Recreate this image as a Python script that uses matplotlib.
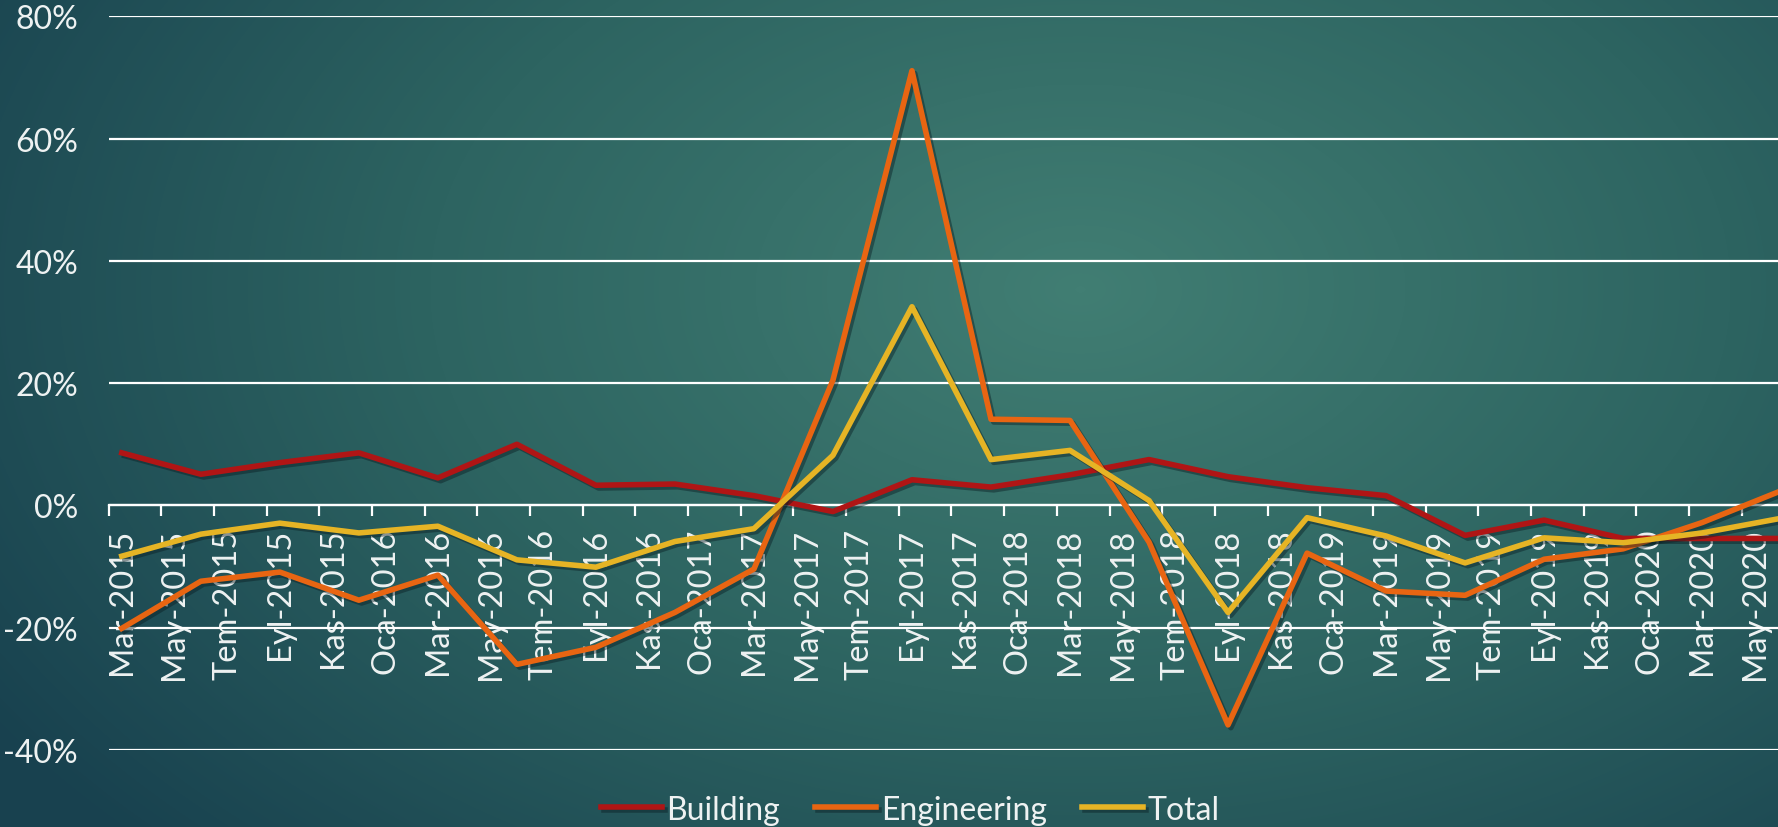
import numpy as np
import matplotlib.pyplot as plt
import matplotlib.patheffects as pe
from matplotlib.colors import LinearSegmentedColormap

# quarterly growth rates (%), Mar-2015 .. Jun-2020 (last one sits just past the right edge)
quarters = ['Mar-2015', 'Jun-2015', 'Sep-2015', 'Dec-2015',
            'Mar-2016', 'Jun-2016', 'Sep-2016', 'Dec-2016',
            'Mar-2017', 'Jun-2017', 'Sep-2017', 'Dec-2017',
            'Mar-2018', 'Jun-2018', 'Sep-2018', 'Dec-2018',
            'Mar-2019', 'Jun-2019', 'Sep-2019', 'Dec-2019',
            'Mar-2020', 'Jun-2020']
building = [8.6, 5.1, 7.0, 8.6, 4.5, 10.0, 3.3, 3.5, 1.6, -1.0, 4.2, 3.0,
            5.0, 7.5, 4.7, 2.9, 1.6, -4.9, -2.4, -5.4, -5.4, -5.4]
engineering = [-20.1, -12.4, -10.9, -15.5, -11.4, -26.0, -23.2, -17.5, -10.4, 20.5, 71.1, 14.1,
               13.9, -6.0, -35.9, -7.8, -14.0, -14.7, -8.8, -7.1, -2.8, 2.4]
total = [-8.3, -4.7, -2.9, -4.5, -3.4, -8.9, -10.1, -5.9, -3.8, 8.2, 32.5, 7.5,
         9.0, 0.8, -17.5, -2.0, -5.0, -9.4, -5.3, -6.1, -4.5, -2.1]

# date axis labels, one every second month
tick_labels = ['Mar-2015', 'May-2015', 'Tem-2015', 'Eyl-2015', 'Kas-2015', 'Oca-2016',
               'Mar-2016', 'May-2016', 'Tem-2016', 'Eyl-2016', 'Kas-2016', 'Oca-2017',
               'Mar-2017', 'May-2017', 'Tem-2017', 'Eyl-2017', 'Kas-2017', 'Oca-2018',
               'Mar-2018', 'May-2018', 'Tem-2018', 'Eyl-2018', 'Kas-2018', 'Oca-2019',
               'Mar-2019', 'May-2019', 'Tem-2019', 'Eyl-2019', 'Kas-2019', 'Oca-2020',
               'Mar-2020', 'May-2020']
y_ticks = [-40, -20, 0, 20, 40, 60, 80]

plt.rcParams['font.family'] = ['Lato', 'DejaVu Sans']
txt = '#eef2f2'

fig = plt.figure(figsize=(17.78, 8.28), dpi=100)

# teal radial background like the slide
h, w = 828, 1778
yy, xx = np.mgrid[0:h, 0:w]
d = np.sqrt(((xx - 1080) / 1300.0) ** 2 + ((yy - 290) / 820.0) ** 2)
d = np.clip(d, 0, 1)
bg_cmap = LinearSegmentedColormap.from_list('bg', ['#417e73', '#2d6461', '#18414f'])
bg = fig.add_axes([0, 0, 1, 1], zorder=-5)
bg.imshow(d, cmap=bg_cmap, aspect='auto', interpolation='bilinear')
bg.axis('off')

ax = fig.add_axes([0.0611, 0.0930, 0.9389, 0.8861])
ax.set_facecolor('none')

# x in months from start of Mar-2015, points at mid month
x = [3 * i + 0.5 for i in range(len(quarters))]
shadow = [pe.SimpleLineShadow(offset=(2, -2), shadow_color='#0a1f24', alpha=0.45), pe.Normal()]
ax.plot(x, building, color='#b01515', lw=4, label='Building', path_effects=shadow, zorder=3)
ax.plot(x, engineering, color='#e86512', lw=4, label='Engineering', path_effects=shadow, zorder=4)
ax.plot(x, total, color='#e6b425', lw=4, label='Total', path_effects=shadow, zorder=5)

ax.set_xlim(0, 63.38)
ax.set_ylim(-40, 80)

# horizontal gridlines
ax.set_yticks(y_ticks)
ax.set_yticklabels([str(v) + '%' for v in y_ticks])
ax.yaxis.grid(True, color='white', lw=1.6, zorder=1)
ax.set_axisbelow(True)
ax.tick_params(axis='y', length=0, pad=22, labelsize=23, labelcolor=txt)

# category axis crosses at 0, tick marks between months, labels mid-month
for s in ['left', 'right', 'top']:
    ax.spines[s].set_visible(False)
ax.spines['bottom'].set_position(('data', 0))
ax.spines['bottom'].set_color('white')
ax.spines['bottom'].set_linewidth(1.6)
ax.set_xticks([2 * k for k in range(len(tick_labels))])
ax.set_xticklabels([])
ax.tick_params(axis='x', which='major', length=8, width=1.6, color='white', direction='out')
ax.set_xticks([2 * k + 0.5 for k in range(len(tick_labels))], minor=True)
ax.set_xticklabels(tick_labels, minor=True, rotation=90, va='top', ha='center')
ax.tick_params(axis='x', which='minor', length=0, pad=16, labelsize=23.5, labelcolor=txt)

fig.legend(loc='center', bbox_to_anchor=(0.512, 0.021), ncol=3, frameon=False,
           fontsize=23, labelcolor=txt, handlelength=1.9, handletextpad=0.15,
           columnspacing=1.1)

fig.savefig('out.png', dpi=100)
